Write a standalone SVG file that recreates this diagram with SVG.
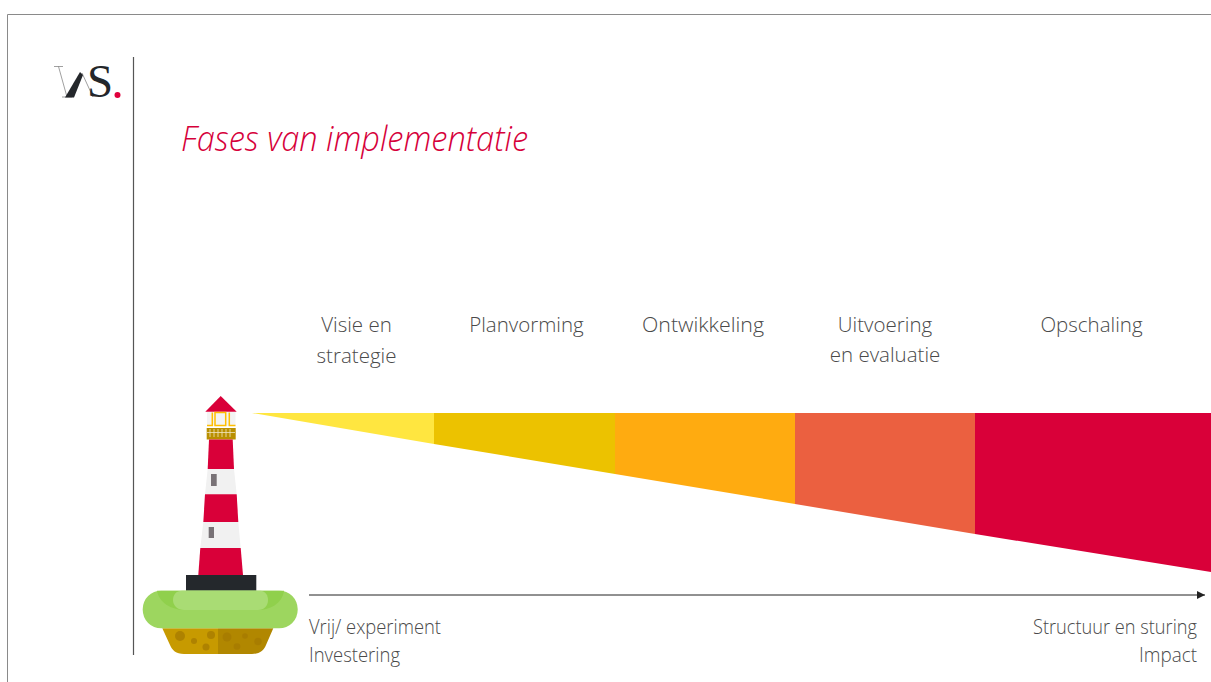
<svg xmlns="http://www.w3.org/2000/svg" width="1211" height="682" viewBox="0 0 1211 682">
<style>
.t{font-family:"Open Sans","Noto Sans","Liberation Sans",sans-serif;font-weight:300;font-size:20.5px;fill:#4a4a4a}
.b{font-size:19.5px}
.m{text-anchor:middle}
.ttl{font-family:"Open Sans","Noto Sans","Liberation Sans",sans-serif;font-weight:300;font-style:italic;font-size:35px;fill:#d6003a}
.red{fill:#d90039}.wht{fill:#f1f1f1}.win{fill:#787276}.sp{fill:#a67a00;opacity:.75}
</style>
<defs>
<marker id="ah" markerWidth="9" markerHeight="8" refX="8" refY="4" orient="auto" markerUnits="userSpaceOnUse"><path d="M0 0L8 4L0 8z" fill="#222"/></marker>
</defs>
<rect width="1211" height="682" fill="#fff"/>
<path d="M7.500 682V14.500H1211" fill="none" stroke="#8a8a8a" stroke-width="1"/>
<path d="M133.500 57V655" stroke="#555" stroke-width="1.200" fill="none"/>
<g id="logo">
<path d="M54 66.500H63M58.500 66.500L67 97M62 97H72M82 73L93 97" fill="none" stroke="#777" stroke-width=".7"/>
<path d="M65 97.500L80 72L83 75L74 97.500z" fill="#24272b"/>
<text x="87" y="97" font-family="'Liberation Serif',serif" font-size="47" fill="#24272b">S</text>
<circle cx="117.500" cy="95" r="3" fill="#e0003c"/>
</g>
<text class="ttl" x="181" y="151" textLength="347" lengthAdjust="spacingAndGlyphs">Fases van implementatie</text>
<g id="phases">
<g id="fase-visie"><path d="M252 413H434V444z" fill="#ffe640"/><text class="t m" x="356.500" y="332">Visie en</text><text class="t m" x="356.500" y="363">strategie</text></g>
<g id="fase-planvorming"><path d="M434 413H615V474L434 444z" fill="#ecc200"/><text class="t m" x="526.500" y="332">Planvorming</text></g>
<g id="fase-ontwikkeling"><path d="M615 413H795V504L615 474z" fill="#ffab10"/><text class="t" x="642" y="332" textLength="122" lengthAdjust="spacingAndGlyphs">Ontwikkeling</text></g>
<g id="fase-uitvoering"><path d="M795 413H975V534L795 504z" fill="#eb6040"/><text class="t m" x="885" y="332">Uitvoering</text><text class="t m" x="885" y="362">en evaluatie</text></g>
<g id="fase-opschaling"><path d="M975 413H1211V572L975 534z" fill="#d90039"/><text class="t m" x="1091.500" y="332">Opschaling</text></g>
</g>
<g id="connectors"><path d="M309 595H1205" stroke="#222" stroke-width="1" fill="none" marker-end="url(#ah)"/></g>
<g id="label-links"><text class="t b" x="309" y="634" textLength="132" lengthAdjust="spacingAndGlyphs">Vrij/ experiment</text><text class="t b" x="309" y="662" textLength="91" lengthAdjust="spacingAndGlyphs">Investering</text></g>
<g id="label-rechts"><text class="t b" x="1033" y="634" textLength="164" lengthAdjust="spacingAndGlyphs">Structuur en sturing</text><text class="t b" x="1139" y="662" textLength="58" lengthAdjust="spacingAndGlyphs">Impact</text></g>
<g id="lighthouse">
<path class="red" d="M220.700 396L236.700 411.700H205.300z"/>
<rect x="207" y="412" width="28.500" height="14" fill="#f3f3f3"/>
<path d="M207 425.500H212.300V412.500M215 412.500H225.700V425.500H215zM229.300 412.500V425.500H235.500" fill="none" stroke="#ffbe00" stroke-width="1.500"/>
<rect x="206.700" y="428" width="29" height="11.500" fill="#b98f00"/>
<path d="M210 429V437M214 429V437M218 429V437M222 429V437M226 429V437M230 429V437M207 432.500H235" stroke="#f0e6c0" stroke-width=".8" fill="none"/>
<path class="red" d="M209 439.500H232.700L234 469H207.700z"/>
<path class="wht" d="M207.700 469H234L236.700 494.300H205z"/>
<path class="red" d="M205 494.300H236.700L238.300 522H203.300z"/>
<path class="wht" d="M203.300 522H238.300L240.700 548H200.300z"/>
<path class="red" d="M200.300 548H240.700L243 575H198.300z"/>
<rect class="win" x="211" y="474" width="5.700" height="12"/>
<rect class="win" x="208.700" y="527" width="5.300" height="11"/>
<rect x="186" y="575" width="70.300" height="15.700" fill="#24282c"/>
<path d="M162.300 628.300H218V654H184C176 654 172 650 170 645z" fill="#c79a00"/>
<path d="M273.300 628.300H218V654H252C260 654 264 650 266 645z" fill="#b18700"/>
<g class="sp">
<circle cx="180" cy="636" r="5"/><circle cx="194" cy="641" r="3"/><circle cx="206" cy="647" r="3.500"/><circle cx="211" cy="635" r="4"/>
<circle cx="227" cy="637" r="4.500"/><circle cx="237" cy="646.500" r="3.300"/><circle cx="245" cy="636" r="2.800"/><circle cx="258" cy="641.500" r="3.700"/>
</g>
<rect x="142.700" y="590.700" width="155" height="37.600" rx="18.500" fill="#9dd65f"/>
<path d="M157 590.700H284C282 604 270 610 256 610H186C170 610 159 602 157 590.700z" fill="#90d04c"/>
<path d="M182 590.700H260C266 590.700 268 596 268 600C268 606 264 610 258 610H184C178 610 173 606 173 600C173 595 176 590.700 182 590.700z" fill="#a9dc74"/>
</g>
</svg>
